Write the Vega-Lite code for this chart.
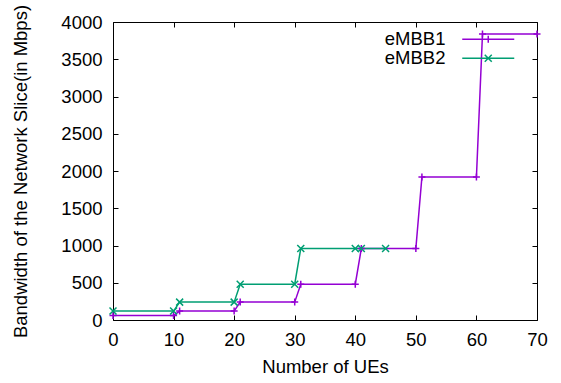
{
  "$schema": "https://vega.github.io/schema/vega-lite/v6.json",
  "width": 424,
  "height": 298,
  "autosize": {"type": "none"},
  "padding": {"left": 113, "top": 22, "right": 24, "bottom": 63},
  "background": "white",
  "config": {
    "font": "Liberation Sans",
    "view": {"stroke": "black", "strokeWidth": 1},
    "axis": {
      "grid": false,
      "domain": false,
      "tickColor": "black",
      "tickSize": -5,
      "tickWidth": 1,
      "labelFlush": false,
      "labelOverlap": false,
      "labelColor": "black",
      "titleColor": "black",
      "labelFont": "Liberation Sans",
      "titleFont": "Liberation Sans",
      "labelFontSize": 18.5,
      "titleFontSize": 18.5,
      "titleFontWeight": "normal"
    }
  },
  "data": {
    "values": [
      {"series": "eMBB1", "ues": 0, "bw": 60},
      {"series": "eMBB1", "ues": 10, "bw": 60},
      {"series": "eMBB1", "ues": 11, "bw": 120},
      {"series": "eMBB1", "ues": 20, "bw": 120},
      {"series": "eMBB1", "ues": 21, "bw": 240},
      {"series": "eMBB1", "ues": 30, "bw": 240},
      {"series": "eMBB1", "ues": 31, "bw": 480},
      {"series": "eMBB1", "ues": 40, "bw": 480},
      {"series": "eMBB1", "ues": 41, "bw": 960},
      {"series": "eMBB1", "ues": 50, "bw": 960},
      {"series": "eMBB1", "ues": 51, "bw": 1920},
      {"series": "eMBB1", "ues": 60, "bw": 1920},
      {"series": "eMBB1", "ues": 61, "bw": 3840},
      {"series": "eMBB1", "ues": 70, "bw": 3840},
      {"series": "eMBB2", "ues": 0, "bw": 120},
      {"series": "eMBB2", "ues": 10, "bw": 120},
      {"series": "eMBB2", "ues": 11, "bw": 240},
      {"series": "eMBB2", "ues": 20, "bw": 240},
      {"series": "eMBB2", "ues": 21, "bw": 480},
      {"series": "eMBB2", "ues": 30, "bw": 480},
      {"series": "eMBB2", "ues": 31, "bw": 960},
      {"series": "eMBB2", "ues": 40, "bw": 960},
      {"series": "eMBB2", "ues": 41, "bw": 960},
      {"series": "eMBB2", "ues": 45, "bw": 960}
    ]
  },
  "layer": [
    {
      "mark": {"type": "line", "strokeWidth": 1.5},
      "encoding": {
        "x": {
          "field": "ues", "type": "quantitative",
          "scale": {"domain": [0, 70], "nice": false, "zero": false},
          "axis": {"orient": "bottom", "title": "Number of UEs", "values": [0, 10, 20, 30, 40, 50, 60, 70], "labelPadding": 15, "titlePadding": 9}
        },
        "y": {
          "field": "bw", "type": "quantitative",
          "scale": {"domain": [0, 4000], "nice": false},
          "axis": {"orient": "left", "title": "Bandwidth of the Network Slice(in Mbps)", "format": "d", "values": [0, 500, 1000, 1500, 2000, 2500, 3000, 3500, 4000], "labelPadding": 16, "titlePadding": 30}
        },
        "color": {
          "field": "series", "type": "nominal",
          "scale": {"domain": ["eMBB1", "eMBB2"], "range": ["#9400d3", "#009e73"]},
          "legend": {
            "orient": "none",
            "legendX": 366,
            "legendY": 8,
            "title": null,
            "padding": 0,
            "symbolType": "stroke",
            "symbolSize": 100,
            "symbolStrokeWidth": 1.5,
            "labelAlign": "right",
            "labelOffset": -52,
            "labelFontSize": 18.5,
            "labelColor": "black",
            "labelFont": "Liberation Sans",
            "rowPadding": 0,
            "encode": {
              "symbols": {
                "update": {
                  "shape": {"signal": "datum.value === 'eMBB1' ? 'M-5.2,0H5.2M0,-0.7V0.7' : 'M-5.2,0H5.2M-0.7,-0.7L0.7,0.7M-0.7,0.7L0.7,-0.7'"}
                }
              }
            }
          }
        }
      }
    },
    {
      "transform": [{"filter": "datum.series === 'eMBB1'"}],
      "mark": {"type": "point", "filled": false, "strokeWidth": 1.5, "size": 49, "opacity": 1, "shape": "M-1,0H1M0,-1V1"},
      "encoding": {
        "x": {
          "field": "ues", "type": "quantitative",
          "axis": {"orient": "top", "title": null, "labels": false, "values": [0, 10, 20, 30, 40, 50, 60, 70]}
        },
        "y": {
          "field": "bw", "type": "quantitative",
          "axis": {"orient": "right", "title": null, "labels": false, "values": [0, 500, 1000, 1500, 2000, 2500, 3000, 3500, 4000]}
        },
        "color": {"field": "series", "type": "nominal"}
      }
    },
    {
      "transform": [{"filter": "datum.series === 'eMBB2'"}],
      "mark": {"type": "point", "filled": false, "strokeWidth": 1.5, "size": 49, "opacity": 1, "shape": "M-1,-1L1,1M-1,1L1,-1"},
      "encoding": {
        "x": {"field": "ues", "type": "quantitative", "axis": null},
        "y": {"field": "bw", "type": "quantitative", "axis": null},
        "color": {"field": "series", "type": "nominal"}
      }
    }
  ],
  "resolve": {"axis": {"x": "independent", "y": "independent"}}
}
